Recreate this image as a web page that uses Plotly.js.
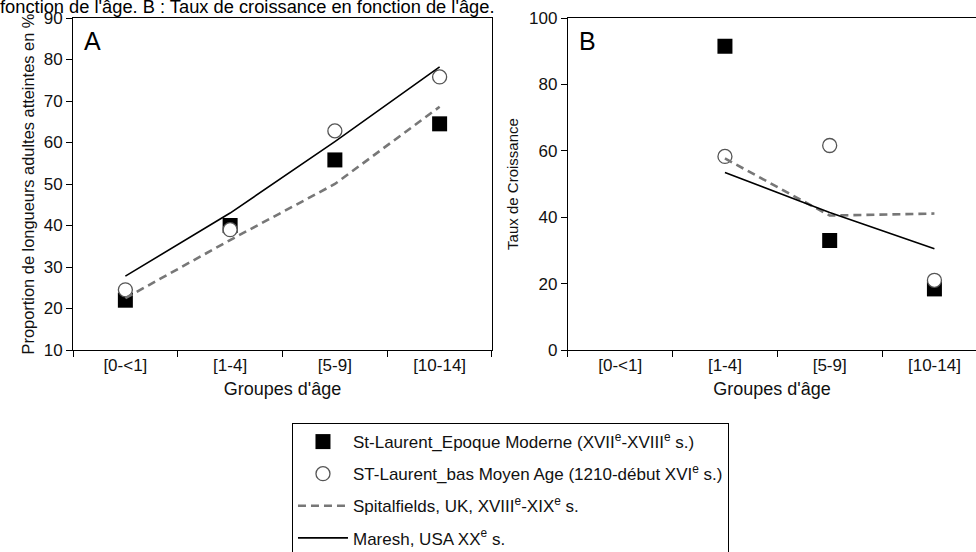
<!DOCTYPE html>
<html>
<head>
<meta charset="utf-8">
<script src="https://cdn.plot.ly/plotly-3.0.1.min.js"></script>
<style>html,body{margin:0;padding:0;background:#fff;}#chart{width:976px;height:552px;}</style>
</head>
<body>
<div id="chart"></div>
<script>
// Categories (age groups)
var ageGroups = ["[0-<1]", "[1-4]", "[5-9]", "[10-14]"];
var ageGroupsB = ["[1-4]", "[5-9]", "[10-14]"];

// Series names
var nameModerne = "St-Laurent_Epoque Moderne (XVII<sup>e</sup>-XVIII<sup>e</sup> s.)";
var nameMoyenAge = "ST-Laurent_bas Moyen Age (1210-début XVI<sup>e</sup> s.)";
var nameSpital = "Spitalfields, UK, XVIII<sup>e</sup>-XIX<sup>e</sup> s.";
var nameMaresh = "Maresh, USA XX<sup>e</sup> s.";

// Panel A : proportion of adult length reached (%)
var aModerne = [22, 40, 55.8, 64.5];
var aMoyenAge = [24.5, 39, 62.8, 75.8];
var aSpital = [22.5, 36.5, 50, 68.6];
var aMaresh = [27.8, 43, 60.2, 78.2];

// Panel B : growth rate
var bModerne = [91.5, 33, 18.4];
var bMoyenAge = [58.3, 61.6, 21];
var bSpital = [57.7, 40.5, 41.1];
var bMaresh = [53.5, 41.4, 30.5];

var font = "Liberation Sans, Arial, sans-serif";
var sqMarker = {symbol: "square", size: 15, color: "#000"};
var ciMarker = {symbol: "circle", size: 14, color: "#fff", line: {color: "#555", width: 1.3}};
var spLine = {color: "#777", width: 2.6, dash: "8px,5px"};
var maLine = {color: "#000", width: 1.6};

var traces = [
  {x: ageGroups, y: aModerne, name: nameModerne, legendgroup: "g1", mode: "markers", marker: sqMarker, xaxis: "x", yaxis: "y"},
  {x: ageGroups, y: aMoyenAge, name: nameMoyenAge, legendgroup: "g2", mode: "markers", marker: ciMarker, xaxis: "x", yaxis: "y"},
  {x: ageGroups, y: aSpital, name: nameSpital, legendgroup: "g3", mode: "lines", line: spLine, xaxis: "x", yaxis: "y"},
  {x: ageGroups, y: aMaresh, name: nameMaresh, legendgroup: "g4", mode: "lines", line: maLine, xaxis: "x", yaxis: "y"},
  {x: ageGroupsB, y: bModerne, name: nameModerne, legendgroup: "g1", showlegend: false, mode: "markers", marker: sqMarker, xaxis: "x2", yaxis: "y2"},
  {x: ageGroupsB, y: bMoyenAge, name: nameMoyenAge, legendgroup: "g2", showlegend: false, mode: "markers", marker: ciMarker, xaxis: "x2", yaxis: "y2"},
  {x: ageGroupsB, y: bSpital, name: nameSpital, legendgroup: "g3", showlegend: false, mode: "lines", line: spLine, xaxis: "x2", yaxis: "y2"},
  {x: ageGroupsB, y: bMaresh, name: nameMaresh, legendgroup: "g4", showlegend: false, mode: "lines", line: maLine, xaxis: "x2", yaxis: "y2"}
];

var axCommon = {
  showline: true, linecolor: "#000", linewidth: 1, showgrid: false, zeroline: false,
  ticks: "outside", ticklen: 6, tickcolor: "#000", tickwidth: 1,
  tickfont: {family: font, size: 17, color: "#111"}
};

var layout = {
  width: 976, height: 552,
  margin: {l: 73, r: 0, t: 18, b: 202, autoexpand: false},
  paper_bgcolor: "#fff", plot_bgcolor: "#fff",
  font: {family: font, color: "#111"},
  showlegend: true,
  xaxis: Object.assign({}, axCommon, {
    domain: [0, 0.464], type: "category", categoryorder: "array", categoryarray: ageGroups,
    range: [-0.5, 3.5], tickson: "boundaries", mirror: true, anchor: "y",
    title: {text: "Groupes d'âge", font: {family: font, size: 18, color: "#111"}, standoff: 7}
  }),
  yaxis: Object.assign({}, axCommon, {
    domain: [0, 1], range: [10, 90], dtick: 10, mirror: true, anchor: "x",
    title: {text: "Proportion de longueurs adultes atteintes en %", font: {family: font, size: 16.4, color: "#111"}, standoff: 4}
  }),
  xaxis2: Object.assign({}, axCommon, {
    domain: [0.548, 1], type: "category", categoryorder: "array", categoryarray: ageGroups,
    range: [-0.5, 3.397], tickson: "boundaries", mirror: true, anchor: "y2",
    title: {text: "Groupes d'âge", font: {family: font, size: 18, color: "#111"}, standoff: 7}
  }),
  yaxis2: Object.assign({}, axCommon, {
    domain: [0, 1], range: [0, 100], dtick: 20, anchor: "x2",
    title: {text: "Taux de Croissance", font: {family: font, size: 15, color: "#111"}, standoff: 6}
  }),
  legend: {
    x: 0.2425, xanchor: "left", y: -0.22, yanchor: "top",
    bordercolor: "#000", borderwidth: 1, bgcolor: "#fff",
    font: {family: font, size: 17, color: "#111"},
    traceorder: "grouped", tracegroupgap: 7, itemwidth: 50
  },
  annotations: [
    {xref: "paper", yref: "paper", x: 0.022, y: 0.93, xanchor: "center", yanchor: "middle", text: "A", showarrow: false, font: {family: font, size: 25, color: "#000"}},
    {xref: "paper", yref: "paper", x: 0.570, y: 0.93, xanchor: "center", yanchor: "middle", text: "B", showarrow: false, font: {family: font, size: 25, color: "#000"}},
    {xref: "paper", yref: "paper", x: -0.083, y: 1.036, xanchor: "left", yanchor: "middle", text: "fonction de l'âge. B : Taux de croissance en fonction de l'âge.", showarrow: false, font: {family: font, size: 18.3, color: "#000"}}
  ]
};

Plotly.newPlot("chart", traces, layout, {displayModeBar: false, staticPlot: true});
</script>
</body>
</html>
